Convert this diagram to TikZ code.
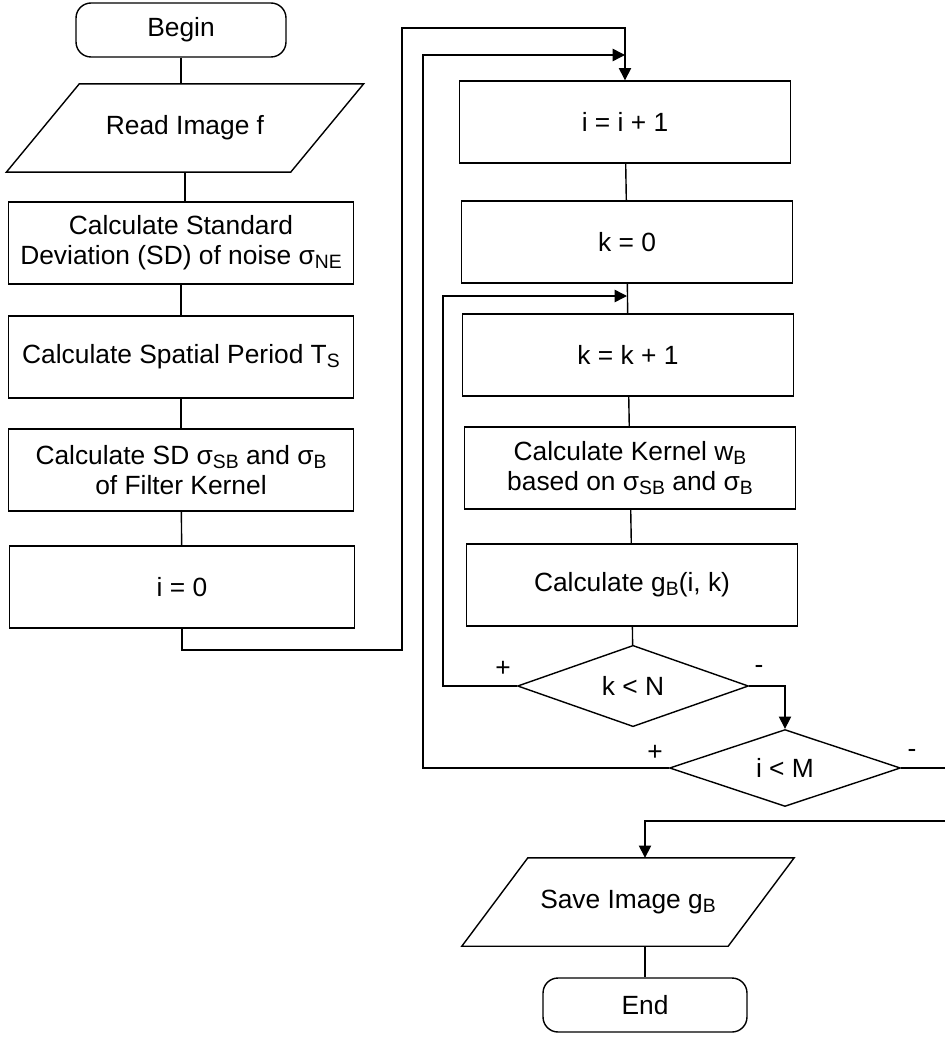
\documentclass[tikz,border=0pt]{standalone}
\usepackage{fontspec}
\setmainfont{Liberation Sans}
\usetikzlibrary{arrows.meta,shapes.geometric}

\newcommand\sbsc[1]{\raisebox{-0.3ex}{\fontsize{11}{11}\selectfont #1}}

\begin{document}
\begin{tikzpicture}[x=0.02cm,y=-0.02cm,>={Triangle[length=7pt,width=7pt]},line width=0.8pt,
  font=\fontsize{15}{17}\selectfont,
  proc/.style={draw,rectangle,align=center,minimum width=6.9cm,minimum height=1.64cm,inner sep=2pt},
  term/.style={draw,rectangle,rounded corners=0.3cm,minimum width=4.2cm,minimum height=1.08cm},
  io/.style={rectangle,minimum height=1.74cm,inner sep=2pt,
    append after command={\pgfextra{\draw ([xshift=#1]\tikzlastnode.north west) -- ([xshift=#1]\tikzlastnode.north east)
      -- ([xshift=-#1]\tikzlastnode.south east) -- ([xshift=-#1]\tikzlastnode.south west) -- cycle;}}},
  dec/.style={draw,diamond,minimum width=4.62cm,minimum height=1.36cm,inner sep=0pt},
  lbl/.style={inner sep=0pt}]
\useasboundingbox (0,0) rectangle (945,1037);
% left column
\node[term] (begin) at (181,30) {Begin};
\node[io=0.73cm,minimum width=5.66cm] (read) at (185,128) {Read Image f};
\node[proc] (sd) at (181,243) {Calculate Standard\\Deviation (SD) of noise σ\sbsc{NE}};
\node[proc] (ts) at (181,357) {Calculate Spatial Period T\sbsc{S}};
\node[proc] (sdb) at (181,470) {Calculate SD σ\sbsc{SB} and σ\sbsc{B}\\of Filter Kernel};
\node[proc] (izero) at (182,587) {i = 0};
% right column
\node[proc,minimum width=6.62cm] (iinc) at (625,122) {i = i + 1};
\node[proc,minimum width=6.62cm] (kzero) at (627,242) {k = 0};
\node[proc,minimum width=6.62cm] (kinc) at (628,355) {k = k + 1};
\node[proc,minimum width=6.62cm] (kern) at (630,468) {Calculate Kernel w\sbsc{B}\\based on σ\sbsc{SB} and σ\sbsc{B}};
\node[proc,minimum width=6.62cm] (gb) at (632,585) {Calculate g\sbsc{B}(i, k)};
\node[dec] (kcheck) at (633,686) {k < N};
\node[dec] (icheck) at (785,768) {i < M};
\node[io=0.66cm,minimum width=5.3cm] (save) at (628,902) {Save Image g\sbsc{B}};
\node[term,minimum width=4.08cm] (end) at (645,1005) {End};
% branch labels
\node[lbl] (kplus) at (503,669) {+};
\node[lbl] (kminus) at (759,669) {-};
\node[lbl] (iplus) at (655,753) {+};
\node[lbl] (iminus) at (912,753) {-};
% turning points
\coordinate (jmpA) at (402,650);
\coordinate (jmpB) at (402,28);
\coordinate (kback) at (443,296);
\coordinate (iback) at (423,55);
\coordinate (iexit) at (950,821);

\draw (begin) -- (begin |- read.north);
\draw (read.south) -- (read.south |- sd.north);
\draw (sd) -- (ts);
\draw (ts) -- (sdb);
\draw (sdb) -- (izero);
\draw[->] (izero.south) |- (jmpA) -- (jmpB) -| (iinc.north);
\draw (iinc) -- (kzero);
\draw (kzero) -- (kinc);
\draw (kinc) -- (kern);
\draw (kern) -- (gb);
\draw (gb) -- (kcheck);
\draw[->] (kcheck.west) -| (kback) -- (kzero.south |- kback);
\draw[->] (kcheck.east) -| (icheck.north);
\draw[->] (icheck.west) -| (iback) -- (iinc.north |- iback);
\draw[->] (icheck.east) -| (iexit) -| (end |- save.north);
\draw (end |- save.south) -- (end);
\end{tikzpicture}
\end{document}
